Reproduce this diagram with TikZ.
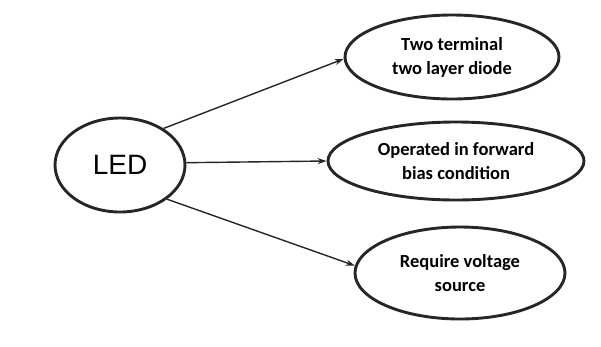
\documentclass[tikz,border=0pt]{standalone}
\usepackage{fontspec}
\setmainfont{Carlito}
\newfontfamily\ledfont{Liberation Sans}
\usetikzlibrary{shapes.geometric,arrows.meta}
\begin{document}
\begin{tikzpicture}[x=1pt,y=-1pt,
  bubble/.style={ellipse,draw=black!85,line width=2.9pt,inner sep=0pt,align=center,
    font=\bfseries\fontsize{18.5}{24}\selectfont},
  link/.style={draw=black!85,line width=1.4pt,-{Stealth[length=9pt,width=6pt]}}]
\useasboundingbox (0,0) rectangle (601,346);
\node[bubble,minimum width=130pt,minimum height=94pt,font=\ledfont\fontsize{28}{30}\selectfont] (led) at (120,165) {LED};
\node[bubble,minimum width=214pt,minimum height=84pt] (top) at (452,57) {Two terminal\\two layer diode};
\node[bubble,minimum width=256pt,minimum height=78pt] (mid) at (456,161) {Operated in forward\\bias condition};
\node[bubble,minimum width=210pt,minimum height=92pt] (bot) at (460,273) {Require voltage\\source};
\draw[link] (led.40) -- (top.181);
\draw[link] (led.2) -- (mid.180);
\draw[link] (led.-36) -- (bot.176);
\end{tikzpicture}
\end{document}
